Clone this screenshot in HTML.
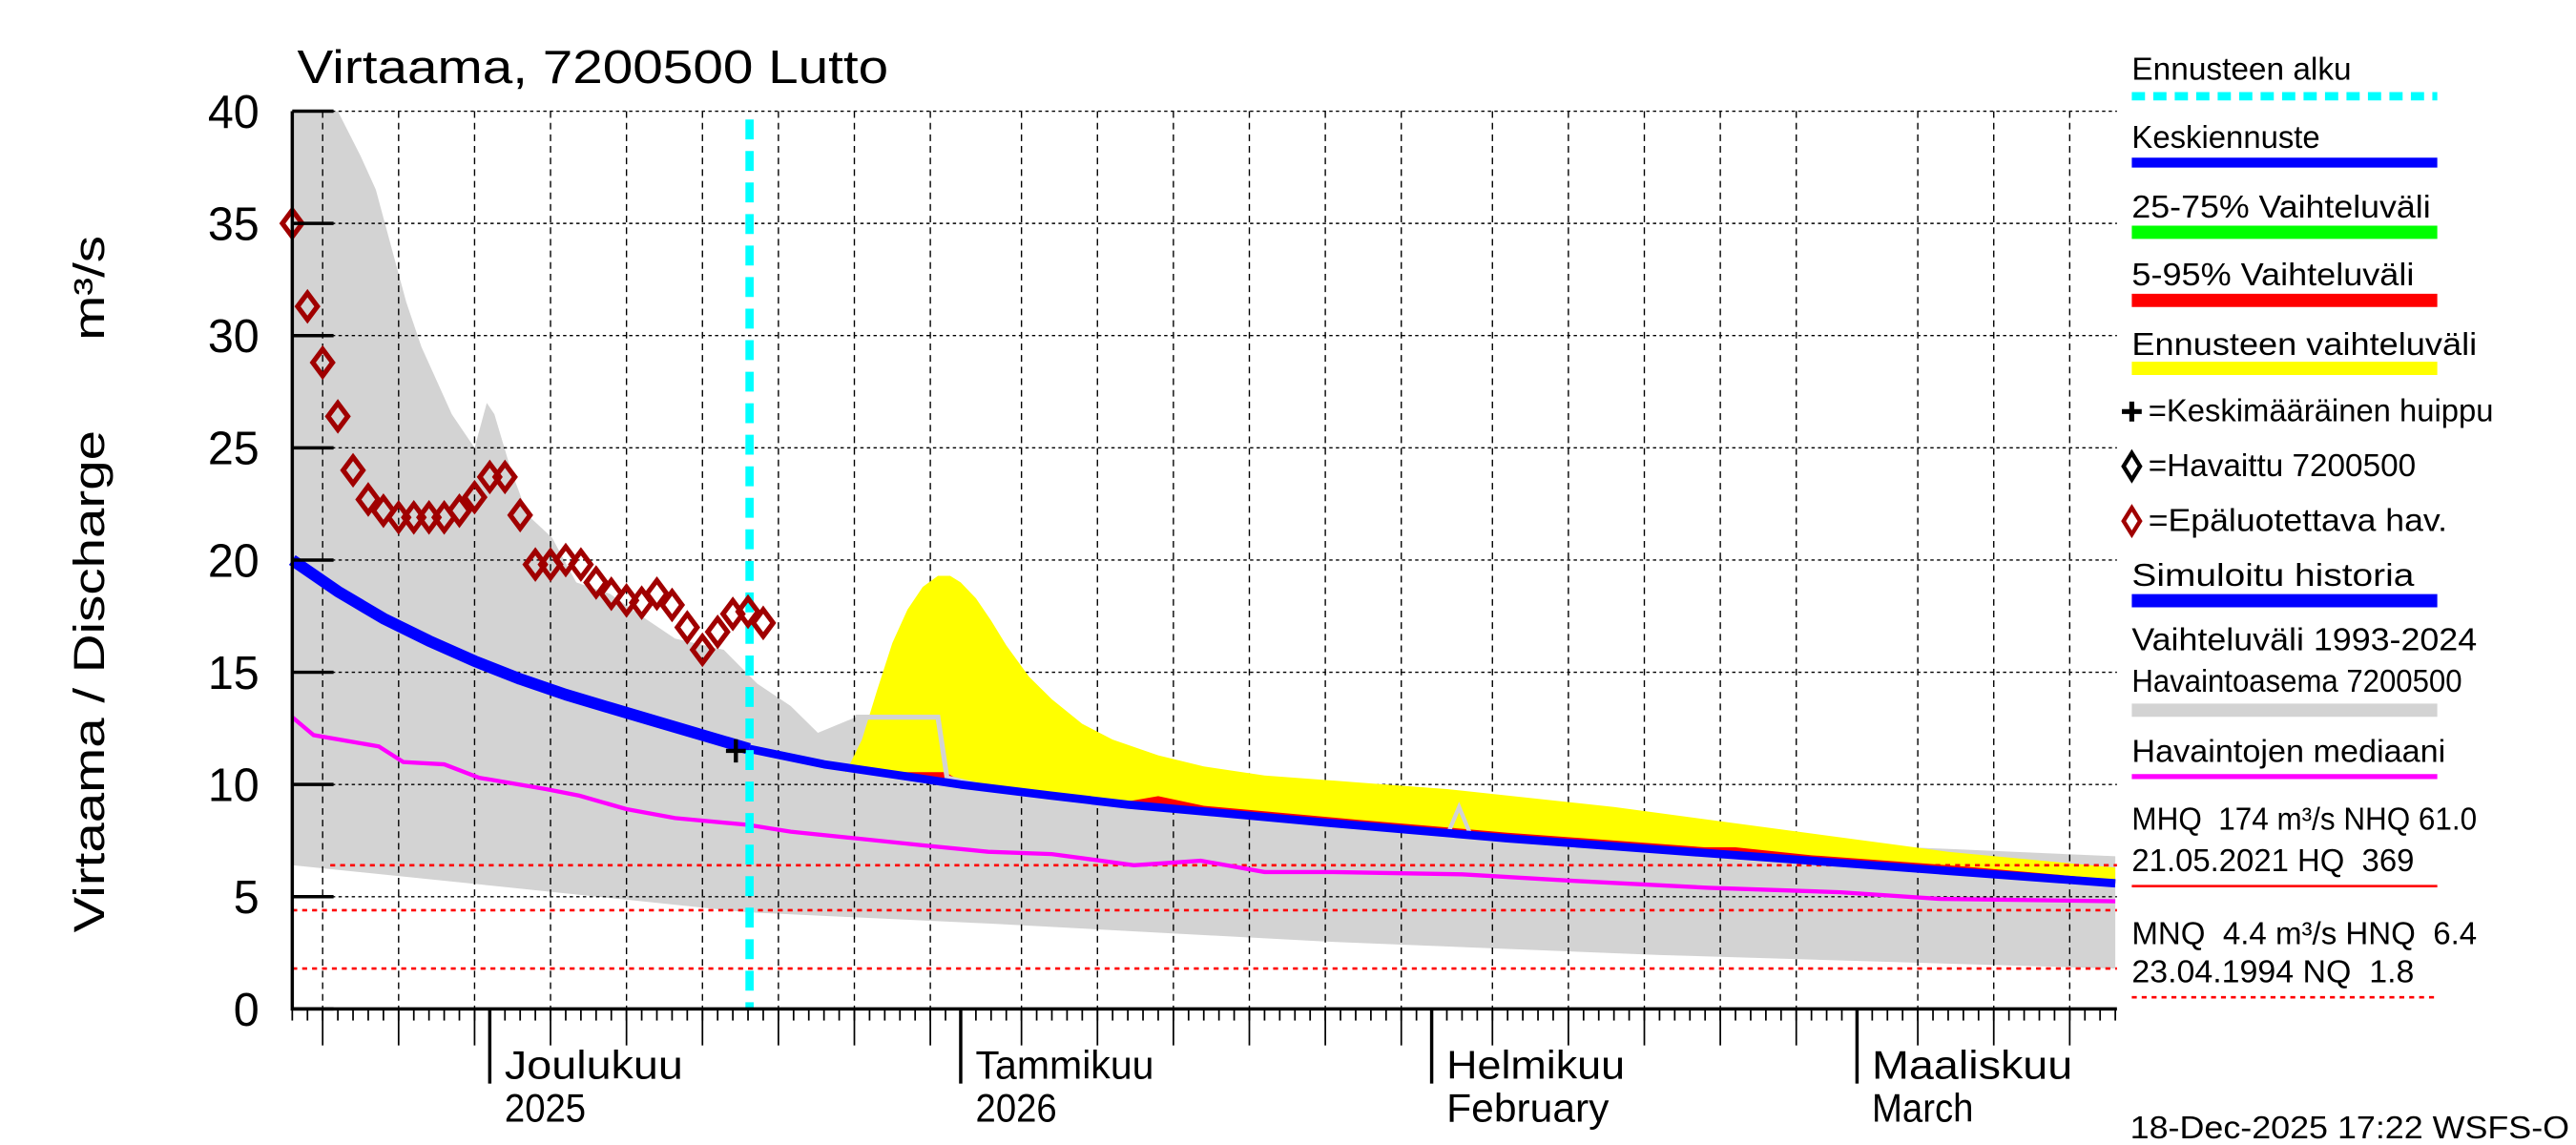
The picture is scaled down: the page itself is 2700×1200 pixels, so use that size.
<!DOCTYPE html>
<html><head><meta charset="utf-8"><style>
html,body{margin:0;padding:0;background:#fff;}
svg{display:block;font-family:"Liberation Sans",sans-serif;}
text{white-space:pre;}
</style></head><body>
<svg id="chart" width="2700" height="1200" viewBox="0 0 1560 690" preserveAspectRatio="none" xmlns="http://www.w3.org/2000/svg">
<rect width="1560" height="690" fill="#fff"/>
<g id="plot"></g>
<text x="180" y="50" font-size="28" textLength="358" lengthAdjust="spacingAndGlyphs">Virtaama, 7200500 Lutto</text>
<text transform="translate(63,352) rotate(-90)" text-anchor="middle" font-size="26" textLength="420" lengthAdjust="spacingAndGlyphs">Virtaama / Discharge      m³/s</text>
<g id="legend"></g>
<text x="1290" y="686" font-size="19" textLength="266" lengthAdjust="spacingAndGlyphs">18-Dec-2025 17:22 WSFS-O</text>
</svg>
<script>
// Data (day index from 18-Nov-2025)
const yTicks=[0,5,10,15,20,25,30,35,40];
const monthLabels=[["Joulukuu","2025"],["Tammikuu","2026"],["Helmikuu","February"],["Maaliskuu","March"]];
const monthDays=[13,44,75,103];
const gridDays=[2,7,12,17,22,27,32,37,42,48,53,58,63,68,73,79,84,89,94,99,107,112,117];
const observed=[35,31.3,28.8,26.4,24,22.7,22.2,21.9,21.9,21.9,21.9,22.2,22.8,23.7,23.7,22,19.8,19.8,20,19.8,19,18.5,18.2,18.1,18.5,18,17,16,16.8,17.6,17.7,17.2];
const grayUpDays=[0,3,4.5,5.5,6.5,7.5,8.5,9.5,10.5,12,12.8,13.3,14.4,15.5,17.1,18.7,20.9,23,25.2,28.4,30.6,32.8,34.6,37.1,42.5,43.1,50,60,70,80,90,100,110,120];
const grayUpVals=[40,40,38,36.5,34,31.5,29.5,28,26.5,25,27,26.5,24,22,21,19,18.5,17.5,16.5,16,14.5,13.5,12.3,13,13,10.5,9.6,9,8.6,8.2,7.8,7.4,7.1,6.8];
const grayLoDays=[0,13,30,46,68,90,120];
const grayLoVals=[6.4,5.5,4.3,3.8,3.0,2.4,1.8];
const blueDays=[0,3,6,9,12,15,18,21,24,27,30,35,40,44,50,55,60,68,75,80,90,100,110,120];
const blueVals=[20,18.6,17.4,16.4,15.5,14.7,14.0,13.4,12.8,12.2,11.6,10.9,10.4,10.0,9.5,9.1,8.8,8.3,7.9,7.6,7.1,6.6,6.1,5.6];
const medDays=[0,1.4,5.7,7.3,10,12.3,16.7,18.9,22,25.2,30,32.8,37.1,41.4,45.8,50,55.4,59.8,64,68.5,77,84.5,93.2,101.9,108.5,120];
const medVals=[13,12.2,11.7,11,10.9,10.3,9.8,9.5,8.9,8.5,8.2,7.9,7.6,7.3,7.0,6.9,6.4,6.6,6.1,6.1,6.0,5.7,5.4,5.2,4.9,4.8];
const yelDays=[36.4,37.5,38.5,39.5,40.5,41.5,42.5,43.3,44,45,46,47,48.5,50,52,54,57,60,64,70,76,87,98,109,120];
const yelVals=[10.5,12,14.2,16.3,17.8,18.8,19.3,19.3,19,18.3,17.3,16.2,14.8,13.8,12.7,12,11.3,10.8,10.4,10.1,9.8,9,8,7,6.3];
const redDays=[40,43,44,55,57,60,70,80,93,95,100,110,120];
const redAdd=[0,0.3,0,0,0.35,0.1,0.1,0.1,0.1,0.2,0.1,0.1,0];
const peak=[29.2,11.5];
const refLevels=[6.4,4.4,1.8];
const forecastDay=30.1;

const X0=177,X1=1282,Y0=608,Ytop=67,PPD=9.2;
const sx=d=>X0+d*PPD, sy=v=>Y0-(v/40)*(Y0-Ytop);
const NS="http://www.w3.org/2000/svg";
const plot=document.getElementById('plot');
function mk(tag,attrs,parent){const e=document.createElementNS(NS,tag);for(const k in attrs)e.setAttribute(k,attrs[k]);(parent||plot).appendChild(e);return e;}
function interp(ds,vs,d){if(d<=ds[0])return vs[0];for(let i=1;i<ds.length;i++){if(d<=ds[i]){const t=(d-ds[i-1])/(ds[i]-ds[i-1]);return vs[i-1]+t*(vs[i]-vs[i-1]);}}return vs[vs.length-1];}
function pts(ds,vs){return ds.map((d,i)=>sx(d).toFixed(1)+','+sy(Math.min(vs[i],40)).toFixed(1)).join(' ');}

// gray band
let up=pts(grayUpDays,grayUpVals), lo=grayLoDays.map((d,i)=>sx(d).toFixed(1)+','+sy(grayLoVals[i]).toFixed(1)).reverse().join(' ');
let g=mk('polygon',{points:up+' '+lo,fill:'#d3d3d3'});


// grid
for(const t of yTicks){if(t===0)continue;const l=mk('line',{x1:X0,x2:X1,y1:sy(t),y2:sy(t),stroke:'#000','stroke-width':0.8,'stroke-dasharray':'2,2'});

}
for(const d of gridDays){const l=mk('line',{x1:sx(d),x2:sx(d),y1:Ytop,y2:Y0,stroke:'#000','stroke-width':0.8,'stroke-dasharray':'4,3'});


const t=mk('line',{x1:sx(d),x2:sx(d),y1:Y0,y2:Y0+22,stroke:'#000','stroke-width':1});

}
for(let d=0;d<=120;d++){const t=mk('line',{x1:sx(d),x2:sx(d),y1:Y0,y2:Y0+7,stroke:'#000','stroke-width':1});

}
// yellow forecast range
let yellowPts=pts(yelDays,yelVals)+' '+[120,110,100,90,80,68,55,44,36.4].map(d=>sx(d).toFixed(1)+','+sy(interp(blueDays,blueVals,d)).toFixed(1)).join(' ');
let yel=mk('polygon',{points:yellowPts,fill:'#ffff00'});


// red 5-95
let rTop=redDays.map((d,i)=>sx(d).toFixed(1)+','+sy(interp(blueDays,blueVals,d)+0.15+redAdd[i]).toFixed(1)).join(' ');
let rBot=redDays.slice().reverse().map(d=>sx(d).toFixed(1)+','+sy(interp(blueDays,blueVals,d)).toFixed(1)).join(' ');
let red=mk('polygon',{points:rTop+' '+rBot,fill:'#ff0000'});


// gray envelope line over yellow
let gl=mk('polyline',{points:pts([37.1,42.5,43.1,45],[13,13,10.3,10]),fill:'none',stroke:'#d3d3d3','stroke-width':3});


let gl2=mk('polyline',{points:pts([76,76.8,77.6],[7.7,9,7.7]),fill:'none',stroke:'#d3d3d3','stroke-width':2.5});


// ref levels
refLevels.forEach((v,i)=>{const l=mk('line',{x1:i===0?200:X0,x2:X1,y1:sy(v),y2:sy(v),stroke:'#ff0000','stroke-width':1.5,'stroke-dasharray':'3,3'});

});
// median
let m=mk('polyline',{points:pts(medDays,medVals),fill:'none',stroke:'#ff00ff','stroke-width':2.5});


// blue
const hd=blueDays.filter(d=>d<=forecastDay),hv=blueVals.slice(0,hd.length);
let bh=mk('polyline',{points:pts(hd.concat([forecastDay]),hv.concat([interp(blueDays,blueVals,forecastDay)])),fill:'none',stroke:'#0000ff','stroke-width':7,'stroke-linejoin':'round'});


const fd=[forecastDay].concat(blueDays.filter(d=>d>forecastDay));
let bf=mk('polyline',{points:pts(fd,fd.map(d=>interp(blueDays,blueVals,d))),fill:'none',stroke:'#0000ff','stroke-width':5,'stroke-linejoin':'round'});


// forecast start
let fl=mk('line',{x1:sx(forecastDay),x2:sx(forecastDay),y1:Ytop+5,y2:Y0,stroke:'#00ffff','stroke-width':5,'stroke-dasharray':'12,7'});


// diamonds
observed.forEach((v,i)=>{const x=sx(i),y=sy(v);const p=mk('polygon',{points:`${x},${y-8} ${x+6},${y} ${x},${y+8} ${x-6},${y}`,fill:'none',stroke:'#a00000','stroke-width':3});

});
// peak
let px=sx(peak[0]),py=sy(peak[1]);
let pk=mk('path',{d:`M${px-6},${py}H${px+6}M${px},${py-7}V${py+7}`,stroke:'#000','stroke-width':2.5});


// axes
let ax=mk('path',{d:`M${X0},${Ytop}V${Y0}H${X1}`,fill:'none',stroke:'#000','stroke-width':2});


for(const t of yTicks){const tl=mk('line',{x1:X0,x2:X0+25,y1:sy(t),y2:sy(t),stroke:'#000','stroke-width':2});


const tx=mk('text',{x:157,y:sy(t)+10,'text-anchor':'end','font-size':28});tx.textContent=t;

}
monthDays.forEach((d,i)=>{const x=sx(d);const t=mk('line',{x1:x,x2:x,y1:Y0,y2:Y0+45,stroke:'#000','stroke-width':2});


const a=mk('text',{x:x+9,y:650,'font-size':24,textLength:monthLabels[i][0].length*13.5,lengthAdjust:'spacingAndGlyphs'});a.textContent=monthLabels[i][0];


const b=mk('text',{x:x+9,y:676,'font-size':24,textLength:monthLabels[i][1].length*12.3,lengthAdjust:'spacingAndGlyphs'});b.textContent=monthLabels[i][1];

});
// legend
const L=document.getElementById('legend');
const legText=[["Ennusteen alku",1291,48],["Keskiennuste",1291,89],["25-75% Vaihteluväli",1291,131],["5-95% Vaihteluväli",1291,172],["Ennusteen vaihteluväli",1291,214],["=Keskimääräinen huippu",1301,254],["=Havaittu 7200500",1301,287],["=Epäluotettava hav.",1301,320],["Simuloitu historia",1291,353],["Vaihteluväli 1993-2024",1291,392],["Havaintoasema 7200500",1291,417],["Havaintojen mediaani",1291,459],["MHQ  174 m³/s NHQ 61.0",1291,500],["21.05.2021 HQ  369",1291,525],["MNQ  4.4 m³/s HNQ  6.4",1291,569],["23.04.1994 NQ  1.8",1291,592]];
legText.forEach(([s,x,y])=>{const t=mk('text',{x:x,y:y,'font-size':19,textLength:(s.length*9.5).toFixed(0),lengthAdjust:'spacingAndGlyphs'},L);t.textContent=s;

});
let lp=mk('path',{d:'M1285,248H1297M1291,242V254',stroke:'#000','stroke-width':3},L);


let ld1=mk('polygon',{points:'1291,273 1296,281 1291,289 1286,281',fill:'none',stroke:'#000','stroke-width':2.5},L);


let ld2=mk('polygon',{points:'1291,306 1296,314 1291,322 1286,314',fill:'none',stroke:'#a00000','stroke-width':2.5},L);


const legBars=[[58,'#00ffff',5,'8,5'],[98,'#0000ff',6,''],[140,'#00ff00',8,''],[181,'#ff0000',8,''],[222,'#ffff00',8,''],[362,'#0000ff',8,''],[428,'#d3d3d3',8,''],[468,'#ff00ff',3,''],[534,'#ff0000',1.5,''],[601,'#ff0000',1.5,'3,3']];
legBars.forEach(([y,c,w,da])=>{const l=mk('line',{x1:1291,x2:1476,y1:y,y2:y,stroke:c,'stroke-width':w,'stroke-dasharray':da},L);

});
</script>
</body></html>
